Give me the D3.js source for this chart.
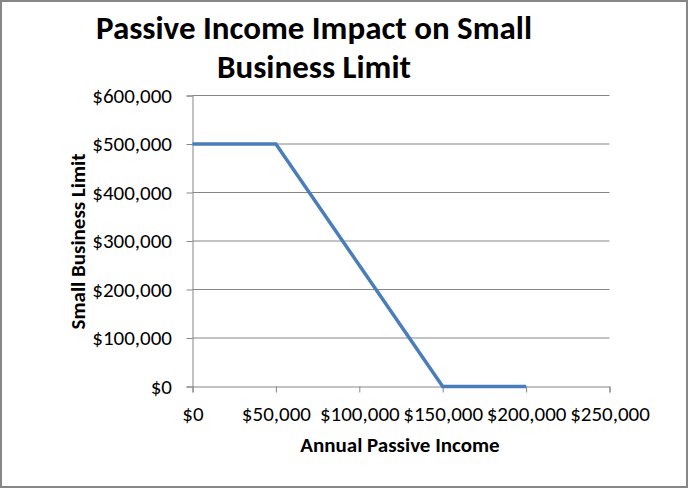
<!DOCTYPE html>
<html><head><meta charset="utf-8">
<script src="https://cdn.jsdelivr.net/npm/d3@7"></script>
<style>
html,body{margin:0;padding:0;background:#fff;}
svg{display:block;font-family:Carlito,Lato,"Open Sans",sans-serif;}
</style></head>
<body><svg id="chart" width="688" height="488"></svg>
<script>
const incomeValues = [0, 50000, 150000, 200000];
const limitValues = [500000, 500000, 0, 0];
const xTicks = [0, 50000, 100000, 150000, 200000, 250000];
const yTicks = [0, 100000, 200000, 300000, 400000, 500000, 600000];
const titleLines = ["Passive Income Impact on Small", "Business Limit"];
const xTitle = "Annual Passive Income";
const yTitle = "Small Business Limit";

const svg = d3.select("#chart");
svg.append("rect").attr("x",1).attr("y",1).attr("width",686).attr("height",486)
  .attr("fill","#fff").attr("stroke","#878787").attr("stroke-width",2);

const x = d3.scaleLinear().domain([0,250000]).range([192.5,609.5]);
const y = d3.scaleLinear().domain([0,600000]).range([386.5,95.5]);
const fmt = v => "$" + d3.format(",")(v);

// gridlines
svg.append("g").selectAll("line").data(yTicks.filter(d=>d>0)).join("line")
  .attr("x1",x(0)).attr("x2",x(250000)).attr("y1",d=>y(d)).attr("y2",d=>y(d))
  .attr("stroke","#868686").attr("stroke-width",1);

// y axis
const yAxis = svg.append("g").attr("transform",`translate(${x(0)},0)`)
  .call(d3.axisLeft(y).tickValues(yTicks).tickFormat(fmt).tickSize(6).tickPadding(14.5));
// x axis
const xAxis = svg.append("g").attr("transform",`translate(0,${y(0)})`)
  .call(d3.axisBottom(x).tickValues(xTicks).tickFormat(fmt).tickSize(6).tickPadding(14));
[yAxis,xAxis].forEach(a=>{
  a.select(".domain").attr("stroke","#868686");
  a.selectAll(".tick line").attr("stroke","#868686");
  a.selectAll("text").attr("fill","#000").style("font-size","21px").style("font-family","Carlito,Lato,sans-serif");
});

// line
svg.append("path").datum(incomeValues.map((v,i)=>[v,limitValues[i]]))
  .attr("fill","none").attr("stroke","#4a7ebb").attr("stroke-width",3.5)
  .attr("d", d3.line().x(d=>x(d[0])).y(d=>y(d[1])));

// titles
svg.append("text").attr("text-anchor","middle").attr("font-weight","bold").attr("font-size","33px")
  .selectAll("tspan").data(titleLines).join("tspan")
  .attr("x",314).attr("y",(d,i)=>39+i*39).text(d=>d);
svg.append("text").attr("x",400).attr("y",452).attr("text-anchor","middle")
  .attr("font-weight","bold").attr("font-size","21px").text(xTitle);
svg.append("text").attr("transform","translate(85,241.5) rotate(-90)").attr("text-anchor","middle")
  .attr("font-weight","bold").attr("font-size","21px").text(yTitle);
</script></body></html>
